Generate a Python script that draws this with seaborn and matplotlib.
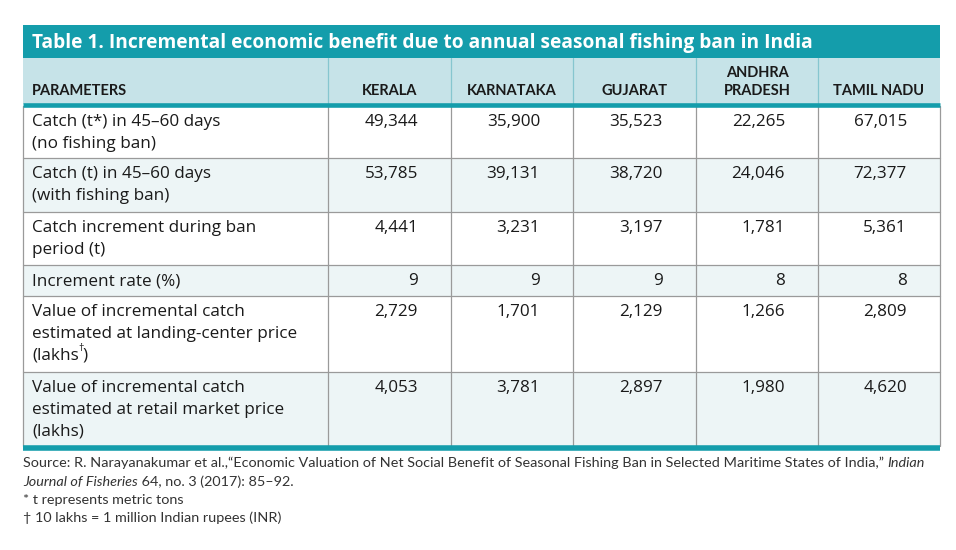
import matplotlib.pyplot as plt
from matplotlib.patches import Rectangle
import seaborn as sns

# === Data ===
title = "Table 1. Incremental economic benefit due to annual seasonal fishing ban in India"
header_first = "PARAMETERS"
states = ["KERALA", "KARNATAKA", "GUJARAT", "ANDHRA\nPRADESH", "TAMIL NADU"]
parameters = [
    "Catch (t*) in 45\u201360 days\n(no fishing ban)",
    "Catch (t) in 45\u201360 days\n(with fishing ban)",
    "Catch increment during ban\nperiod (t)",
    "Increment rate (%)",
    "Value of incremental catch\nestimated at landing-center price\n(lakhs\u2020)",
    "Value of incremental catch\nestimated at retail market price\n(lakhs)",
]
catch_no_ban = [49344, 35900, 35523, 22265, 67015]
catch_with_ban = [53785, 39131, 38720, 24046, 72377]
catch_increment = [4441, 3231, 3197, 1781, 5361]
increment_rate = [9, 9, 9, 8, 8]
value_landing = [2729, 1701, 2129, 1266, 2809]
value_retail = [4053, 3781, 2897, 1980, 4620]
rows = [catch_no_ban, catch_with_ban, catch_increment, increment_rate, value_landing, value_retail]

source_1 = "Source: R. Narayanakumar et al.,\u201cEconomic Valuation of Net Social Benefit of Seasonal Fishing Ban in Selected Maritime States of India,\u201d "
source_1_it = "Indian"
source_2_it = "Journal of Fisheries"
source_2 = " 64, no. 3 (2017): 85\u201392."
note_1 = "* t represents metric tons"
note_2 = "\u2020 10 lakhs = 1 million Indian rupees (INR)"

# === Layout (pixels) ===
col_edges = [23, 328, 451, 573, 696, 818, 940]
row_edges = [106, 158, 212, 265, 296, 372, 446]
TEAL = "#149dab"
HEAD_BG = "#c6e3e8"
STRIPE = "#edf5f6"
GRID = "#9a9a9a"
TXT = "#1a1a1a"
BODY_FONT = ["Open Sans", "DejaVu Sans"]
BODY_FS = 12.3

sns.set_theme(style="white")
plt.rcParams["font.family"] = ["Lato", "DejaVu Sans"]

fig = plt.figure(figsize=(9.56, 5.5), dpi=100)
ax = fig.add_axes([0, 0, 1, 1])
ax.set_xlim(0, 956)
ax.set_ylim(550, 0)
ax.axis("off")

left, right = col_edges[0], col_edges[-1]

# title bar + header
ax.add_patch(Rectangle((left, 25), right - left, 33, color=TEAL, lw=0))
ax.text(32, 43, title, color="white", fontsize=13.8, fontweight="bold", va="center", ha="left",
        family=BODY_FONT)
ax.add_patch(Rectangle((left, 58), right - left, 46, color=HEAD_BG, lw=0))
for x in col_edges[1:-1]:
    ax.plot([x, x], [58, 103], color="#86c6cf", lw=0.9)

ax.text(32, 91, header_first, fontsize=10.5, fontweight="bold", color=TXT, va="center")
for i, s in enumerate(states):
    xc = (col_edges[i + 1] + col_edges[i + 2]) / 2
    lines = s.split("\n")
    for j, line in enumerate(reversed(lines)):
        ax.text(xc, 91 - 18 * j, line, fontsize=10.5, fontweight="bold", color=TXT,
                ha="center", va="center")

# body rows
for r, (label, vals) in enumerate(zip(parameters, rows)):
    top, bot = row_edges[r], row_edges[r + 1]
    if r % 2 == 1:
        ax.add_patch(Rectangle((left, top), right - left, bot - top, color=STRIPE, lw=0))
    for j, line in enumerate(label.split("\n")):
        if line.endswith("\u2020)"):
            t = ax.text(32, top + 16 + 21.5 * j, line[:-2], fontsize=BODY_FS, color=TXT,
                        va="center", family=BODY_FONT)
            ax.annotate("\u2020", xy=(1, 0.55), xycoords=t, va="bottom", ha="left",
                        fontsize=7.5, color=TXT, family=BODY_FONT)
            ax.annotate(")", xy=(1, 0), xycoords=t, xytext=(4, 0), textcoords="offset pixels",
                        va="bottom", ha="left", fontsize=BODY_FS, color=TXT, family=BODY_FONT)
        else:
            ax.text(32, top + 16 + 21.5 * j, line, fontsize=BODY_FS, color=TXT, va="center",
                    family=BODY_FONT)
    for c, v in enumerate(vals):
        ax.text(col_edges[c + 2] - 33, top + 16, f"{v:,}", fontsize=BODY_FS, color=TXT,
                ha="right", va="center", family=BODY_FONT)
    if r > 0:
        ax.plot([left, right], [top, top], color=GRID, lw=0.9)

for x in col_edges:
    ax.plot([x, x], [row_edges[0], row_edges[-1]], color=GRID, lw=0.9)

ax.plot([left, right], [104.5, 104.5], color=TEAL, lw=3.3, solid_capstyle="butt")
ax.plot([left, right], [448, 448], color=TEAL, lw=4, solid_capstyle="butt")

# footnotes
fs = 10.35
t1 = ax.text(23, 463, source_1, fontsize=fs, color="#333333", va="center")
ax.annotate(source_1_it, xy=(1, 0), xycoords=t1, va="bottom", ha="left",
            fontsize=fs, color="#333333", style="italic")
t2 = ax.text(23, 482, source_2_it, fontsize=fs, color="#333333", va="center", style="italic")
ax.annotate(source_2, xy=(1, 0), xycoords=t2, va="bottom", ha="left",
            fontsize=fs, color="#333333")
ax.text(23, 500, note_1, fontsize=fs, color="#333333", va="center")
ax.text(23, 518, note_2, fontsize=fs, color="#333333", va="center")

fig.savefig("out.png", dpi=100)
